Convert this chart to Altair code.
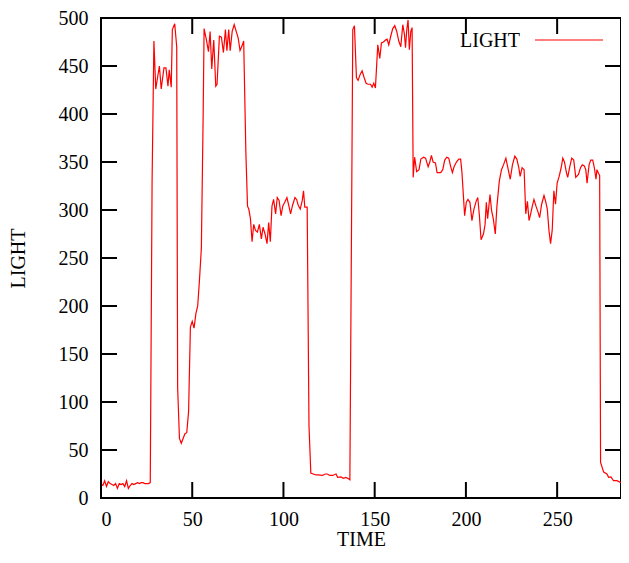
import altair as alt
import pandas as pd

# TIME / LIGHT samples
time = [0, 1, 2, 3, 4, 5, 6, 7, 8, 9, 10, 11, 12, 13, 14, 15, 16, 17, 18, 19, 20, 21, 22, 23, 24, 25, 26, 27,
        28, 29, 30, 31, 32, 33, 34.5, 35.6, 36.7, 37.4, 38.5, 39.1, 40.4, 41.5, 42, 43, 44, 45, 46, 47, 48, 49,
        50, 51, 52, 53, 54, 55, 56, 56.5, 57.8, 58.9, 59.8, 60.7, 61.8, 62.9, 63.6, 64.9, 66, 67.1, 68.2, 69,
        70, 70.8, 71.9, 73, 74.1, 75.2, 76.2, 77.3, 78.2, 79.4, 80.3, 81, 81.9, 82.8, 83.7, 84.6, 85.7, 86.8,
        87.9, 88.8, 89.9, 91, 91.9, 92.8, 93.7, 94.6, 95.7, 96.6, 97.6, 98.7, 99.6, 100.7, 101.9, 103, 103.9,
        105, 106.3, 107.2, 108.1, 109.2, 110.3, 111, 111.7, 113, 114, 115, 117.8, 119, 121.4, 122.9, 124.1,
        125.4, 127, 128.8, 129.7, 131.5, 132.8, 134.2, 135.7, 136.4, 138, 138.9, 140, 140.9, 142, 143.1, 144.2,
        145.3, 146.4, 147.7, 148.6, 149.5, 150.4, 151.7, 152.8, 153.7, 154.8, 155.9, 156.8, 157.7, 158.8,
        159.9, 161, 162.1, 163.2, 164.3, 165.4, 166.3, 166.9, 167.6, 168.3, 169, 169.8, 170.5, 171.1, 171.9,
        173, 174.3, 175.3, 176.8, 177.9, 179.3, 180.2, 181.1, 182, 183.3, 184.2, 186.2, 187.3, 188.4, 189.5,
        190.6, 191.7, 192.6, 193.5, 194.8, 196.1, 197.1, 197.8, 199.3, 200.2, 201.1, 202.2, 203.3, 204.4,
        205.6, 206.5, 207.4, 208.3, 209.6, 210.5, 211.2, 211.9, 213.2, 214.1, 215, 216.1, 217, 218.3, 219.5,
        220.6, 221.9, 223, 224.3, 225.5, 226.8, 227.9, 229, 229.7, 230.8, 231.9, 232.8, 233.7, 234.6, 235.5,
        236.4, 237.3, 238.4, 239.5, 240.4, 241.5, 242.8, 243.7, 244.6, 245.5, 246.4, 247.3, 248.2, 249.1, 250,
        251.1, 252.2, 253.1, 254, 255.1, 255.8, 256.9, 258, 259.1, 260.2, 261.7, 262.8, 263.8, 264.9, 265.7,
        266.4, 267.5, 268.4, 269.5, 270.4, 271.3, 271.8, 272.7, 273.3, 273.8, 275.5, 277.3, 278.2, 279.5,
        280.9, 282.8, 285]
light = [14, 13, 18, 12, 17, 15, 14, 13, 15, 10, 15, 14, 15, 12, 18, 10, 13, 15, 14, 15, 16, 15, 16, 16, 15, 15, 15, 16,
         330, 476, 426, 438, 450, 426, 448, 448, 429, 446, 428, 488, 494, 470, 115, 62, 57, 62, 67, 68, 90, 178,
         184, 177, 192, 200, 228, 260, 400, 489, 477, 465, 486, 447, 477, 429, 431, 481, 480, 464, 488, 466,
         488, 466, 486, 493, 486, 479, 466, 471, 476, 360, 304, 301, 291, 267, 285, 279, 277, 285,
         270, 282, 275, 265, 287, 267, 304, 311, 296, 313, 310, 294, 304, 308, 313, 304, 296,
         305, 313, 311, 305, 301, 310, 320, 303, 303, 75, 26, 24, 24, 23.5, 25, 25,
         23.5, 23.5, 25, 21.5, 22, 20.6, 21.5, 20, 19, 488, 492, 438, 435, 441, 445, 438,
         432, 431, 431, 428, 432, 427, 472, 458, 474, 475, 477, 478, 472, 481,
         489, 492, 486, 476, 470, 493, 483, 469, 488, 498, 467, 486, 490, 334, 355,
         340, 342, 353, 355, 354, 345, 350, 357, 350, 349, 339, 339, 342, 352, 355,
         354, 345, 339, 345, 350, 353, 353, 340, 294, 308, 311, 308, 289, 301,
         309, 313, 294, 269, 275, 285, 308, 291, 316, 299, 291, 275, 304, 330, 342,
         347, 354, 344, 332, 347, 356, 353, 344, 335, 344, 342, 296, 309, 289, 296,
         304, 311, 304, 298, 292, 306, 315, 309, 301, 279, 265, 279, 320, 306, 328,
         335, 344, 354, 350, 339, 334, 345, 354, 352, 334, 337, 344, 347, 346, 342,
         328, 347, 352, 352, 344, 332, 342, 338, 336, 37, 27, 25, 21.5, 22,
         18, 18, 16]

x_ticks = [0, 50, 100, 150, 200, 250]
y_ticks = [0, 50, 100, 150, 200, 250, 300, 350, 400, 450, 500]

W, H = 520, 480
TL = 16
FONT = "Liberation Serif"

df = pd.DataFrame({"TIME": time, "LIGHT": light})
xt = pd.DataFrame({"TIME": x_ticks})
yt = pd.DataFrame({"LIGHT": y_ticks})

xscale = alt.Scale(domain=[0, 285], nice=False, zero=False)
yscale = alt.Scale(domain=[0, 500], nice=False, zero=False)

xaxis = alt.Axis(values=x_ticks, ticks=False, domain=False, grid=False,
                 title="TIME", labelPadding=11, titlePadding=0,
                 labelFont=FONT, labelFontSize=20, titleFont=FONT,
                 titleFontSize=20, titleFontWeight="normal",
                 labelColor="black", titleColor="black")
yaxis = alt.Axis(values=y_ticks, ticks=False, domain=False, grid=False,
                 title="LIGHT", labelPadding=13, titlePadding=30,
                 labelFont=FONT, labelFontSize=20, titleFont=FONT,
                 titleFontSize=20, titleFontWeight="normal",
                 labelColor="black", titleColor="black")

line = alt.Chart(df).mark_line(color="#ff0000", strokeWidth=1.2).encode(
    x=alt.X("TIME:Q", scale=xscale, axis=xaxis),
    y=alt.Y("LIGHT:Q", scale=yscale, axis=yaxis),
)

bx = alt.Chart(xt).mark_rule(color="black", strokeWidth=2).encode(
    x=alt.X("TIME:Q", scale=xscale, axis=xaxis), y=alt.value(H), y2=alt.value(H - TL))
tx = alt.Chart(xt).mark_rule(color="black", strokeWidth=2).encode(
    x=alt.X("TIME:Q", scale=xscale, axis=xaxis), y=alt.value(0), y2=alt.value(TL))
ly = alt.Chart(yt).mark_rule(color="black", strokeWidth=2).encode(
    y=alt.Y("LIGHT:Q", scale=yscale, axis=yaxis), x=alt.value(0), x2=alt.value(TL))
ry = alt.Chart(yt).mark_rule(color="black", strokeWidth=2).encode(
    y=alt.Y("LIGHT:Q", scale=yscale, axis=yaxis), x=alt.value(W), x2=alt.value(W - TL))

leg_text = alt.Chart(pd.DataFrame({"name": ["LIGHT"]})).mark_text(
    font=FONT, fontSize=20, align="right", baseline="middle", color="black"
).encode(text="name:N", x=alt.value(419), y=alt.value(23))
leg_line = alt.Chart(pd.DataFrame({"name": ["LIGHT"]})).mark_rule(
    color="#ff0000", strokeWidth=1.2
).encode(x=alt.value(434), x2=alt.value(502), y=alt.value(22))

chart = alt.layer(line, bx, tx, ly, ry, leg_text, leg_line).properties(
    width=W, height=H,
    autosize=alt.AutoSizeParams(type="none"),
    padding={"left": 93, "top": 10, "right": 0, "bottom": 52},
).configure(
    background="white",
    view=alt.ViewConfig(stroke="black", strokeWidth=2),
)

chart.save("out.html", embed_options={"renderer": "svg", "actions": False})
